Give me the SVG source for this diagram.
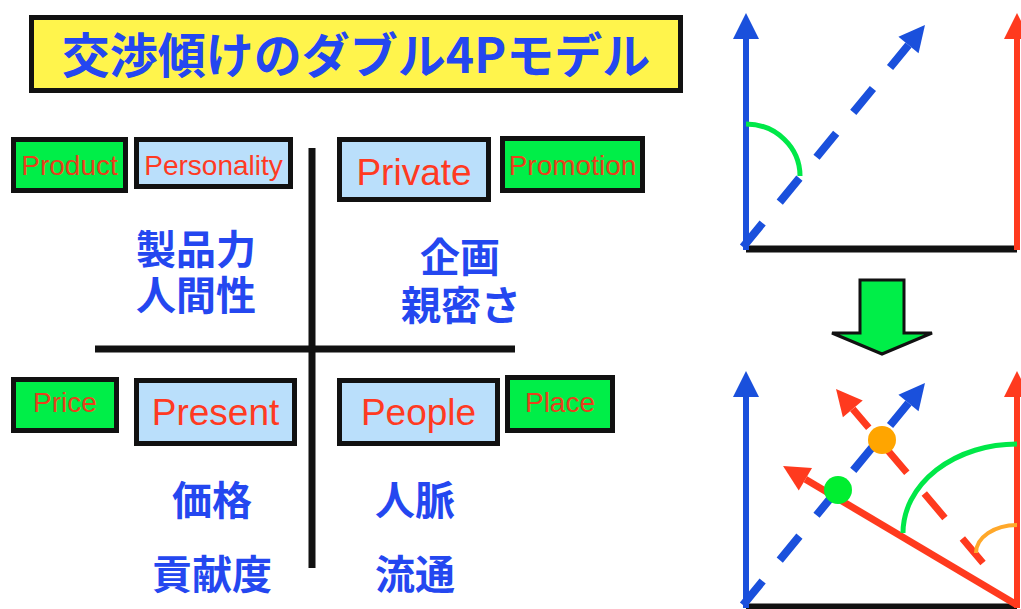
<svg xmlns="http://www.w3.org/2000/svg" width="1021" height="609" viewBox="0 0 1021 609">
<defs>
<style>
.box{stroke:#111;stroke-width:5}
.g{fill:#00EE48}
.b{fill:#BADFFB}
.en{font-family:"Liberation Sans",Arial,sans-serif;text-anchor:middle}
.s{font-size:28px;fill:#E8401C}
.l{font-size:37px;fill:#FF3A22}
.jp{font-family:"Noto Sans CJK JP","Noto Sans CJK SC",sans-serif;font-weight:bold;font-size:40px;fill:#2447F0;text-anchor:middle}
.ax{stroke:#111;stroke-width:7;fill:none}
.bl{stroke:#1A50DC;fill:none}
.rd{stroke:#FF3A1E;fill:none}
</style>
<marker id="hb" markerUnits="userSpaceOnUse" markerWidth="26" markerHeight="26" refX="0" refY="13" orient="auto" overflow="visible"><path d="M0,0 L26,13 L0,26 Z" fill="#1A50DC"/></marker>
<marker id="hr" markerUnits="userSpaceOnUse" markerWidth="26" markerHeight="26" refX="0" refY="13" orient="auto" overflow="visible"><path d="M0,0 L26,13 L0,26 Z" fill="#FF3A1E"/></marker>
</defs>
<rect width="1021" height="609" fill="#fff"/>

<g id="title">
<rect x="31.5" y="17.5" width="649" height="73" fill="#FFF44C" stroke="#111" stroke-width="5"/>
<text x="356" y="73" class="jp" style="font-size:48px">交渉傾けのダブル4Pモデル</text>
</g>

<g id="connectors">
<line class="ax" x1="312" y1="148" x2="312" y2="568"/>
<line class="ax" x1="95" y1="349" x2="515" y2="349"/>
</g>

<g id="product"><rect class="box g" x="13.5" y="139.5" width="112" height="51"/><text class="en s" x="69.5" y="175">Product</text></g>
<g id="personality"><rect class="box b" x="136.5" y="139.5" width="154" height="47"/><text class="en s" x="213.5" y="175" style="fill:#FF3A22">Personality</text></g>
<g id="private"><rect class="box b" x="339.5" y="139.5" width="149" height="60"/><text class="en l" x="414" y="185">Private</text></g>
<g id="promotion"><rect class="box g" x="502.5" y="138.5" width="140" height="52"/><text class="en s" x="572.5" y="175">Promotion</text></g>
<g id="price"><rect class="box g" x="13.5" y="379.5" width="103" height="51"/><text class="en s" x="65" y="412">Price</text></g>
<g id="present"><rect class="box b" x="136.5" y="380.5" width="158" height="63"/><text class="en l" x="215.5" y="425">Present</text></g>
<g id="people"><rect class="box b" x="339.5" y="380.5" width="158" height="63"/><text class="en l" x="418.5" y="425">People</text></g>
<g id="place"><rect class="box g" x="507.5" y="377.5" width="105" height="53"/><text class="en s" x="560" y="412">Place</text></g>

<g id="label-tl"><text class="jp"><tspan x="196" y="264">製品力</tspan><tspan x="196" y="310">人間性</tspan></text></g>
<g id="label-tr"><text class="jp"><tspan x="460" y="272">企画</tspan><tspan x="461" y="320">親密さ</tspan></text></g>
<g id="label-bl"><text class="jp" x="212" y="515">価格</text><text class="jp" x="212" y="589">貢献度</text></g>
<g id="label-br"><text class="jp" x="415" y="515">人脈</text><text class="jp" x="415" y="589">流通</text></g>

<g id="vector-top">
<line stroke="#111" stroke-width="7" x1="746" y1="249" x2="1017" y2="249"/>
<line class="bl" stroke-width="6" x1="746" y1="250" x2="746" y2="39" marker-end="url(#hb)"/>
<line class="rd" stroke-width="6" x1="1017" y1="250" x2="1017" y2="39" marker-end="url(#hr)"/>
<line class="bl" stroke-width="8" stroke-dasharray="31 27" x1="743" y1="247" x2="908.5" y2="45" marker-end="url(#hb)"/>
<path d="M746,124 A54,52 0 0 1 800,176" stroke="#00E848" stroke-width="5" fill="none"/>
</g>

<g id="down-arrow">
<path d="M860,280 L904,280 L904,333 L932,333 L882,354 L832,333 L860,333 Z" fill="#00EE48" stroke="#111" stroke-width="3" stroke-linejoin="miter"/>
</g>

<g id="vector-bottom">
<line stroke="#111" stroke-width="7" x1="746" y1="607" x2="1017" y2="607"/>
<line class="bl" stroke-width="6" x1="746" y1="608" x2="746" y2="397" marker-end="url(#hb)"/>
<line class="rd" stroke-width="6" x1="1017" y1="608" x2="1017" y2="397" marker-end="url(#hr)"/>
<line class="bl" stroke-width="8" stroke-dasharray="31 27" x1="743" y1="605" x2="908.5" y2="403" marker-end="url(#hb)"/>
<line class="rd" stroke-width="7" x1="1017" y1="605" x2="805.4" y2="479.3" marker-end="url(#hr)"/>
<line class="rd" stroke-width="7" stroke-dasharray="32 27" x1="983" y1="563" x2="852.8" y2="408.9" marker-end="url(#hr)"/>
<path d="M903,533 A114,89 0 0 1 1017,444" stroke="#00E848" stroke-width="5" fill="none"/>
<path d="M976,553 A41,28 0 0 1 1017,525" stroke="#FFA82A" stroke-width="4" fill="none"/>
<circle cx="882" cy="440" r="14" fill="#FFA500"/>
<circle cx="838" cy="490" r="14" fill="#00EE30"/>
</g>
</svg>
